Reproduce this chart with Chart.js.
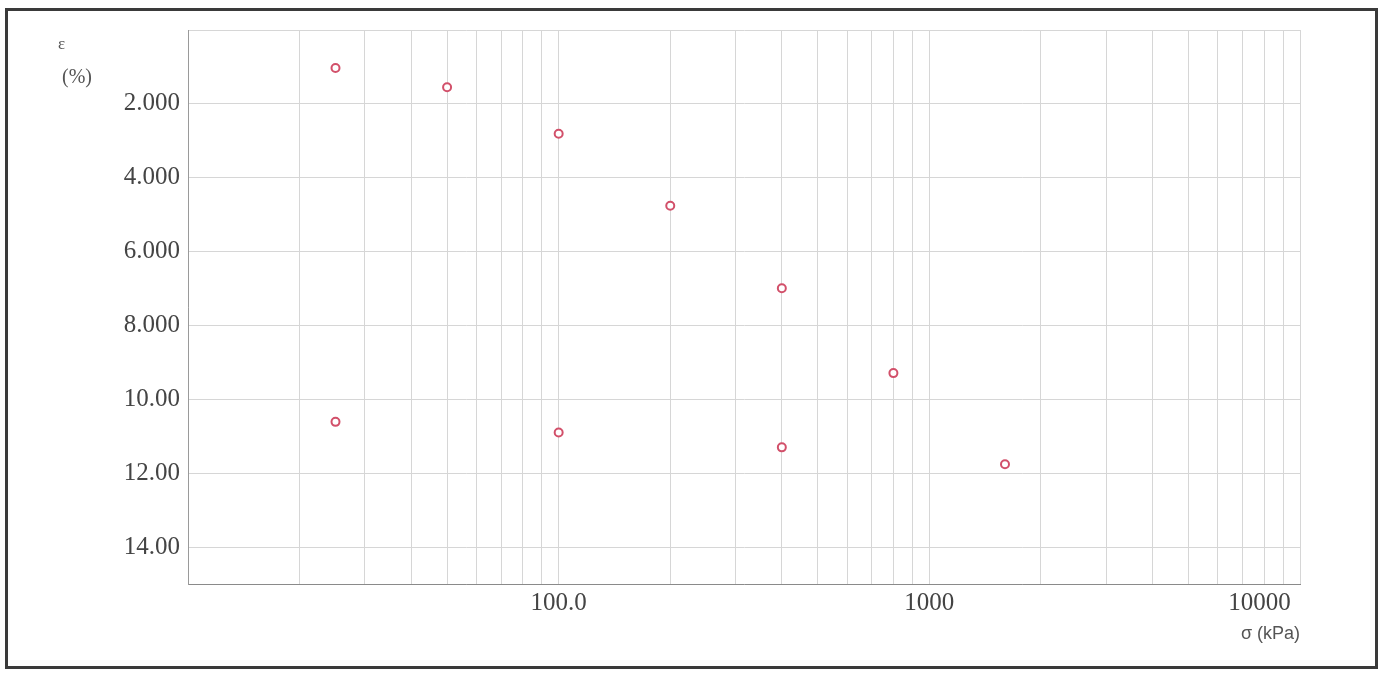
<!DOCTYPE html>
<html>
<head>
<meta charset="utf-8">
<script src="https://cdn.jsdelivr.net/npm/chart.js@4/dist/chart.umd.min.js"></script>
<style>
  html, body { margin: 0; padding: 0; background: #fff; }
  #wrap { position: relative; width: 1380px; height: 673px; }
  #frame { position: absolute; left: 5px; top: 8px; width: 1367px; height: 655px;
           border: 3px solid #3a3a3a; pointer-events: none; }
  .lbl { position: absolute; color: #555; white-space: nowrap; }
</style>
</head>
<body>
<div id="wrap">
  <canvas id="chart" width="1380" height="673"></canvas>
  <div id="frame"></div>
  <div class="lbl" style="left:58px;top:34px;font:17px 'Liberation Serif';">ε</div>
  <div class="lbl" style="left:62px;top:65px;font:20px 'Liberation Serif';">(%)</div>
  <div class="lbl" style="right:80px;top:623px;font:18px 'Liberation Sans';">σ (kPa)</div>
</div>
<script>
// stress (kPa) and strain (%)
const stress = [25, 50, 100, 200, 400, 800, 1600, 400, 100, 25];
const strain = [1.03, 1.55, 2.81, 4.76, 6.99, 9.29, 11.76, 11.30, 10.90, 10.61];

const xLabels = { 100: "100.0", 1000: "1000", 10000: "10000" + "\u00a0".repeat(13) };
const yMin = 0, yMax = 15, yStep = 2;

const points = stress.map((s, i) => ({ x: s, y: strain[i] }));

// keep only 1..9 x 10^n lines (drop the 1.5 x 10^n ticks chart.js adds)
function wholeDecadeSteps(scale) {
    scale.ticks = scale.ticks.filter(t => {
        let m = t.value / Math.pow(10, Math.floor(Math.log10(t.value) + 1e-9));
        return Math.abs(m - Math.round(m)) < 1e-6;
    });
}

new Chart(document.getElementById("chart"), {
    type: "scatter",
    data: {
        datasets: [{
            data: points,
            pointRadius: 4,
            pointBorderWidth: 2,
            pointBorderColor: "#d2506a",
            pointBackgroundColor: "#fff",
            showLine: false
        }]
    },
    options: {
        responsive: false,
        animation: false,
        layout: { padding: { left: 0, top: 30, right: 80, bottom: 0 } },
        plugins: { legend: { display: false }, tooltip: { enabled: false } },
        scales: {
            x: {
                type: "logarithmic",
                min: 10,
                max: 10000,
                afterBuildTicks: wholeDecadeSteps,
                afterFit: s => { s.height = 89; },
                grid: { color: "#d6d6d6", drawTicks: false },
                border: { color: "#8a8a8a" },
                ticks: {
                    autoSkip: false,
                    maxRotation: 0,
                    padding: 4,
                    color: "#444",
                    font: { family: "Liberation Serif", size: 25 },
                    callback: v => xLabels[v] || ""
                }
            },
            y: {
                reverse: true,
                min: yMin,
                max: yMax,
                afterFit: s => { s.width = 188; },
                grid: { color: "#d6d6d6", drawTicks: false },
                border: { color: "#9a9a9a" },
                ticks: {
                    stepSize: yStep,
                    padding: 8,
                    color: "#444",
                    font: { family: "Liberation Serif", size: 25 },
                    callback: v => (v === 0 || v === 15) ? "" : Number(v).toPrecision(4)
                }
            }
        }
    }
});
</script>
</body>
</html>
